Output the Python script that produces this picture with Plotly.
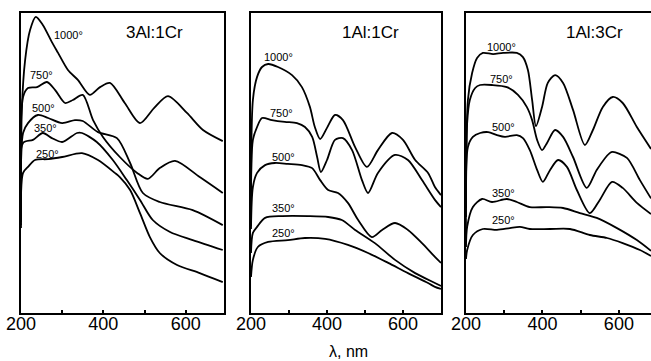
import plotly.graph_objects as go

W, H = 651, 361
FONT = "Liberation Sans"

temps = ["1000°", "750°", "500°", "350°", "250°"]

# ---- Panel 1: 3Al:1Cr ----
p1_1000_x = [200, 202, 210, 222, 236, 253, 275, 290, 314, 338, 367, 392, 416, 452, 489, 523, 557, 603, 642, 690]
p1_1000_y = [32, 67.7, 84.3, 94.3, 98.7, 96, 90.3, 86.7, 81, 77.7, 72.7, 75.3, 76.7, 70, 63.3, 68.3, 72.3, 66.7, 61, 57.3]
p1_750_x = [200, 205, 217, 239, 263, 283, 307, 326, 350, 375, 399, 440, 482, 508, 537, 574, 634, 690]
p1_750_y = [31, 72, 75, 75.3, 77, 74.3, 70, 71, 72.7, 64.3, 58.7, 52, 46.7, 44.7, 48.3, 50.7, 45.3, 40]
p1_500_x = [200, 205, 217, 241, 266, 300, 331, 350, 387, 433, 465, 496, 537, 617, 690]
p1_500_y = [30.3, 60, 63.3, 66, 65, 63.3, 64.3, 64, 60.3, 58.3, 50, 40, 37, 34.3, 29.3]
p1_350_x = [200, 205, 229, 253, 275, 300, 336, 348, 384, 423, 457, 489, 520, 562, 617, 690]
p1_350_y = [29.3, 56.7, 57.7, 60, 58.3, 57, 60, 60, 57, 51, 44.3, 37.7, 31, 27, 24.3, 21]
p1_250_x = [200, 205, 217, 234, 266, 300, 348, 387, 428, 440, 465, 489, 513, 537, 579, 634, 690]
p1_250_y = [28.3, 46.7, 48.7, 51, 51.3, 52, 53.3, 51, 46.7, 45.3, 41, 33.3, 25.3, 20, 16, 13.3, 10.3]

# ---- Panel 2: 1Al:1Cr ----
p2_1000_x = [200, 205, 216, 229, 245, 271, 308, 334, 355, 368, 382, 400, 421, 442, 474, 505, 534, 571, 600, 632, 666, 684, 700]
p2_1000_y = [30, 71, 78.7, 82, 83, 82, 79.3, 75.3, 68.7, 62, 58, 61.7, 66, 64.3, 55.3, 48.7, 54.3, 60, 57.7, 51, 46.7, 42, 39.3]
p2_750_x = [200, 205, 216, 229, 255, 289, 321, 342, 361, 374, 384, 400, 421, 442, 466, 492, 508, 534, 579, 613, 650, 684, 700]
p2_750_y = [29, 57.7, 62, 65, 64.3, 63.7, 63.3, 62, 58.7, 52, 47, 51, 57.7, 58.3, 54.3, 44.3, 40, 46.7, 52.7, 51, 44.3, 37.7, 35.3]
p2_500_x = [200, 205, 216, 237, 263, 297, 334, 361, 382, 403, 429, 455, 482, 518, 545, 579, 613, 650, 684, 700]
p2_500_y = [28, 42, 46.7, 49.3, 50, 49.7, 49.3, 48.3, 44.3, 41, 40, 36.7, 31, 25.3, 27.7, 30, 27.7, 23.3, 18.7, 16.7]
p2_350_x = [200, 205, 216, 237, 282, 350, 403, 439, 474, 526, 579, 632, 684, 700]
p2_350_y = [20, 26.7, 28.7, 31.7, 32.3, 32.3, 32, 31, 27.7, 23.3, 17.7, 13.3, 10, 9]
p2_250_x = [200, 205, 218, 245, 297, 342, 395, 455, 508, 561, 613, 666, 684, 700]
p2_250_y = [12, 17.7, 22, 23.7, 24.3, 25, 24.7, 22.7, 20, 16.7, 13.3, 10, 8.7, 8]

# ---- Panel 3: 1Al:3Cr ----
p3_1000_x = [200, 205, 216, 229, 244, 271, 297, 333, 349, 362, 373, 383, 399, 414, 433, 454, 480, 511, 532, 558, 584, 610, 647, 684]
p3_1000_y = [35, 71, 80, 85, 86.7, 86.3, 86.7, 86.7, 85.3, 81, 71, 62.3, 68.7, 76.7, 79.3, 76.7, 67.7, 56, 61, 68.7, 72, 70, 62, 54.7]
p3_750_x = [200, 203, 210, 224, 237, 268, 307, 336, 359, 373, 386, 399, 412, 433, 454, 480, 516, 542, 576, 584, 621, 655, 684]
p3_750_y = [32, 63.3, 71, 75, 76, 76, 75.3, 72.7, 68.7, 64.3, 57.7, 54.3, 56.7, 61, 58.7, 52, 41.7, 47.7, 53.3, 53.7, 51.7, 44.3, 38.2]
p3_500_x = [200, 205, 218, 237, 258, 281, 302, 333, 349, 367, 386, 401, 420, 441, 464, 490, 524, 550, 582, 610, 647, 684]
p3_500_y = [28, 55.3, 58.7, 60, 60.3, 59.3, 58.7, 59.3, 58.3, 54.3, 47.7, 43.7, 47.7, 51, 48.7, 41, 33.3, 37.7, 43.7, 41.7, 36.7, 33]
p3_350_x = [200, 203, 218, 242, 268, 307, 333, 367, 412, 454, 498, 542, 595, 647, 684]
p3_350_y = [22, 28.7, 35.3, 38, 37, 38, 37, 35.3, 35.3, 35, 33.3, 31.7, 28.3, 24.3, 20.7]
p3_250_x = [200, 203, 218, 244, 281, 315, 341, 367, 420, 472, 524, 569, 610, 655, 684]
p3_250_y = [18, 21, 26, 28, 27.7, 28.3, 28.7, 28, 28, 28, 26, 25, 23.3, 21, 19]

panel_titles = ["3Al:1Cr", "1Al:1Cr", "1Al:3Cr"]
x_tickvals = [200, 300, 400, 500, 600]
x_ticktext = ["200", "", "400", "", "600"]
x_title = "λ, nm"

panels = [
    [(p1_1000_x, p1_1000_y), (p1_750_x, p1_750_y), (p1_500_x, p1_500_y), (p1_350_x, p1_350_y), (p1_250_x, p1_250_y)],
    [(p2_1000_x, p2_1000_y), (p2_750_x, p2_750_y), (p2_500_x, p2_500_y), (p2_350_x, p2_350_y), (p2_250_x, p2_250_y)],
    [(p3_1000_x, p3_1000_y), (p3_750_x, p3_750_y), (p3_500_x, p3_500_y), (p3_350_x, p3_350_y), (p3_250_x, p3_250_y)],
]

# layout geometry (pixels)
x_dom_px = [(21, 224), (251, 441), (466, 651)]
x_ranges = [[200, 693], [200, 700], [200, 684]]
y_dom = [(H - 313) / H, (H - 13) / H]
label_pos = [
    [(275, 92.7), (217, 79.3), (222, 68.3), (227, 61.7), (232, 53)],
    [(229, 85.3), (245, 66.7), (250, 52), (250, 35), (250, 26.7)],
    [(250, 88.7), (258, 78), (263, 62), (263, 40), (263, 31)],
]
title_px = [(154, 32), (370, 32), (594, 32)]

fig = go.Figure()
annotations = []
for i, curves in enumerate(panels):
    n = "" if i == 0 else str(i + 1)
    for (xs, ys) in curves:
        fig.add_trace(go.Scatter(x=xs, y=ys, mode="lines", xaxis="x" + n, yaxis="y" + n,
                                 line=dict(color="black", width=1.8, shape="spline", smoothing=0.8),
                                 showlegend=False, hoverinfo="skip"))
    d0, d1 = x_dom_px[i]
    fig.layout["xaxis" + n] = dict(
        domain=[d0 / W, d1 / W], range=x_ranges[i], anchor="y" + n, automargin=False,
        showline=True, linecolor="black", linewidth=2, mirror=True,
        showgrid=False, zeroline=False,
        tickmode="array", tickvals=x_tickvals, ticktext=x_ticktext,
        ticks="inside", ticklen=3, tickwidth=1.5, tickcolor="black",
        tickfont=dict(family=FONT, size=18, color="black"), ticklabelstandoff=-7)
    fig.layout["yaxis" + n] = dict(
        domain=list(y_dom), range=[0, 100], anchor="x" + n, automargin=False,
        showline=True, linecolor="black", linewidth=2, mirror=(i < 2),
        showgrid=False, zeroline=False, showticklabels=False, ticks="")
    for t, (lx, ly) in zip(temps, label_pos[i]):
        annotations.append(dict(x=lx, y=ly, xref="x" + n, yref="y" + n, text=t, showarrow=False,
                                xanchor="left", yanchor="middle",
                                font=dict(family=FONT, size=11, color="black")))
    tx, ty = title_px[i]
    annotations.append(dict(x=tx / W, y=1 - ty / H, xref="paper", yref="paper", text=panel_titles[i],
                            showarrow=False, xanchor="center", yanchor="middle",
                            font=dict(family=FONT, size=17, color="black")))

annotations.append(dict(x=348 / W, y=1 - 351 / H, xref="paper", yref="paper", text=x_title,
                        showarrow=False, xanchor="center", yanchor="middle",
                        font=dict(family=FONT, size=16, color="black")))

fig.update_layout(template="none", width=W, height=H, margin=dict(l=0, r=0, t=0, b=0, pad=0),
                  paper_bgcolor="white", plot_bgcolor="white", annotations=annotations)
fig.write_html("out.html", config={"displayModeBar": False},
               post_script="document.body.style.margin='0';document.body.style.overflow='hidden';")
